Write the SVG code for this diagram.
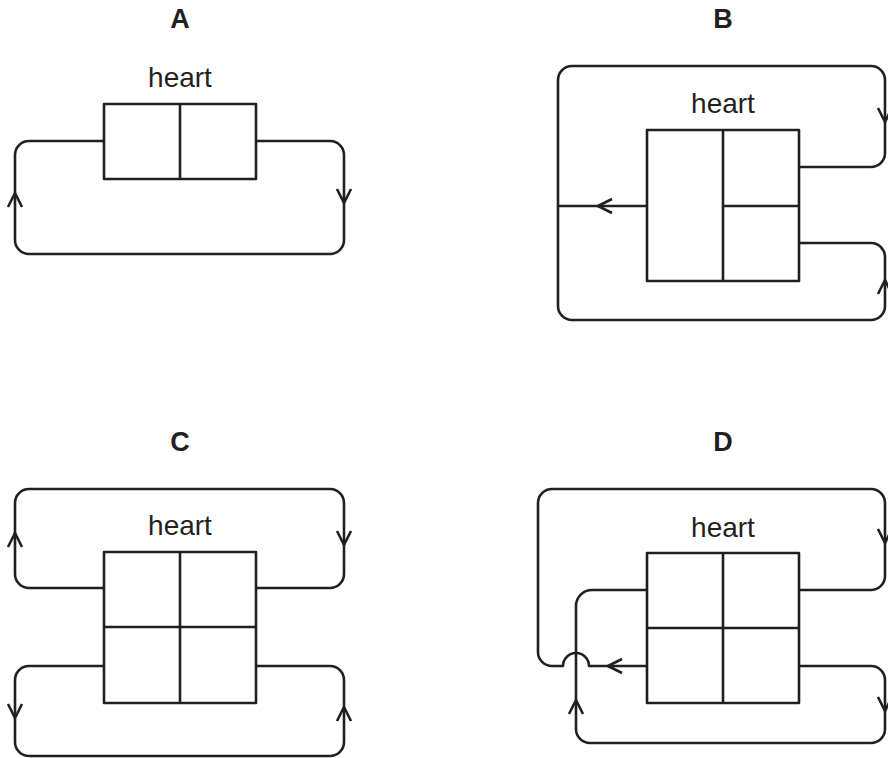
<svg xmlns="http://www.w3.org/2000/svg" width="888" height="758" viewBox="0 0 888 758">
<style>
.ln{fill:none;stroke:#231f20;stroke-width:2.6;stroke-linejoin:round;stroke-linecap:butt}
.ttl{font-family:"Liberation Sans",Arial,sans-serif;font-weight:bold;font-size:27px;fill:#231f20;text-anchor:middle}
.lbl{font-family:"Liberation Sans",Arial,sans-serif;font-size:28px;fill:#231f20;text-anchor:middle}
</style>
<defs>
<path id="chev" class="ln" d="M-7,14 L0,0 L7,14"/>
</defs>
<rect width="888" height="758" fill="#ffffff"/>

<g id="panelA">
<text class="ttl" x="180" y="28">A</text>
<g id="A-heart">
<text class="lbl" x="180" y="87">heart</text>
<rect class="ln" x="104" y="104" width="152" height="75"/>
<line class="ln" x1="180" y1="104" x2="180" y2="179"/>
</g>
</g>

<g id="panelB">
<text class="ttl" x="723" y="28">B</text>
<g id="B-heart">
<text class="lbl" x="723" y="113">heart</text>
<rect class="ln" x="647" y="130" width="152" height="151"/>
<line class="ln" x1="723" y1="130" x2="723" y2="281"/>
<line class="ln" x1="723" y1="206" x2="799" y2="206"/>
</g>
</g>

<g id="panelC">
<text class="ttl" x="180" y="451">C</text>
<g id="C-heart">
<text class="lbl" x="180" y="535">heart</text>
<rect class="ln" x="104" y="552" width="152" height="151"/>
<line class="ln" x1="180" y1="552" x2="180" y2="703"/>
<line class="ln" x1="104" y1="627" x2="256" y2="627"/>
</g>
</g>

<g id="panelD">
<text class="ttl" x="723" y="451">D</text>
<g id="D-heart">
<text class="lbl" x="723" y="537">heart</text>
<rect class="ln" x="647" y="553" width="152" height="150"/>
<line class="ln" x1="723" y1="553" x2="723" y2="703"/>
<line class="ln" x1="647" y1="628" x2="799" y2="628"/>
</g>
</g>

<g id="connectors">
<!-- A -->
<path class="ln" d="M104,141 H29 A14,14 0 0 0 15,155 V240 A14,14 0 0 0 29,254 H330 A14,14 0 0 0 344,240 V155 A14,14 0 0 0 330,141 H256"/>
<use href="#chev" transform="translate(15,193)"/>
<use href="#chev" transform="translate(344,203) rotate(180)"/>
<!-- B -->
<path class="ln" d="M647,206 H558"/>
<path class="ln" d="M799,167 H871 A14,14 0 0 0 885,153 V80 A14,14 0 0 0 871,66 H572 A14,14 0 0 0 558,80 V306 A14,14 0 0 0 572,320 H871 A14,14 0 0 0 885,306 V257 A14,14 0 0 0 871,243 H799"/>
<use href="#chev" transform="translate(598,206) rotate(-90)"/>
<use href="#chev" transform="translate(885,122) rotate(180)"/>
<use href="#chev" transform="translate(885,280)"/>
<!-- C -->
<path class="ln" d="M104,588 H29 A14,14 0 0 1 15,574 V503 A14,14 0 0 1 29,489 H330 A14,14 0 0 1 344,503 V574 A14,14 0 0 1 330,588 H256"/>
<path class="ln" d="M104,666 H29 A14,14 0 0 0 15,680 V742 A14,14 0 0 0 29,756 H330 A14,14 0 0 0 344,742 V680 A14,14 0 0 0 330,666 H256"/>
<use href="#chev" transform="translate(15,533)"/>
<use href="#chev" transform="translate(344,545) rotate(180)"/>
<use href="#chev" transform="translate(15,718) rotate(180)"/>
<use href="#chev" transform="translate(344,707)"/>
<!-- D -->
<path class="ln" d="M647,666 H589 A13,13 0 0 0 563,666 H552 A14,14 0 0 1 538,652 V503 A14,14 0 0 1 552,489 H871 A14,14 0 0 1 885,503 V576 A14,14 0 0 1 871,590 H799"/>
<path class="ln" d="M647,590 H592 A16,16 0 0 0 576,606 V729 A14,14 0 0 0 590,743 H871 A14,14 0 0 0 885,729 V680 A14,14 0 0 0 871,666 H799"/>
<use href="#chev" transform="translate(608,666) rotate(-90)"/>
<use href="#chev" transform="translate(576,700)"/>
<use href="#chev" transform="translate(885,543) rotate(180)"/>
<use href="#chev" transform="translate(885,711) rotate(180)"/>
</g>
</svg>
